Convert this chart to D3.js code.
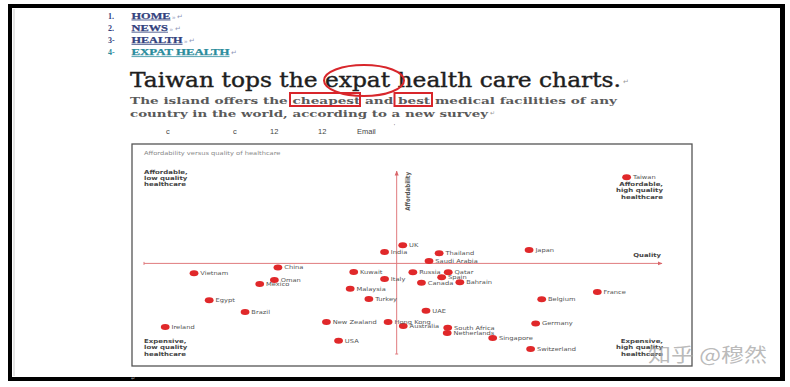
<!DOCTYPE html>
<html>
<head>
<meta charset="utf-8">
<script src="https://cdn.jsdelivr.net/npm/d3@7"></script>
<style>
body { margin: 0; background: #fff; }
svg { display: block; }
</style>
</head>
<body>
<div class="page"></div>
<script>
// chart data
var countries = ["Taiwan", "UK", "India", "Thailand", "Japan", "Saudi Arabia", "China", "Vietnam",
    "Kuwait", "Russia", "Qatar", "Italy", "Spain", "Oman", "Canada", "Bahrain", "Mexico",
    "Malaysia", "France", "Egypt", "Turkey", "Belgium", "UAE", "Brazil", "New Zealand",
    "Hong Kong", "Germany", "Ireland", "Australia", "South Africa", "Netherlands", "USA",
    "Singapore", "Switzerland"]
var quality = [45.5, 1.2, -2.4, 8.4, 26.2, 6.4, -23.5, -40.1,
    -8.5, 3.2, 10.2, -2.4, 8.9, -24.2, 4.9, 12.5, -27.1,
    -9.2, 39.7, -37.1, -5.5, 28.7, 5.8, -30.0, -13.9,
    -1.7, 27.5, -45.8, 1.3, 10.1, 10.0, -11.5,
    19.0, 26.5]
var affordability = [47.5, 10.0, 6.3, 5.6, 7.4, 1.3, -2.2, -5.5,
    -4.7, -4.9, -4.9, -8.6, -7.7, -9.2, -10.7, -10.4, -11.4,
    -14.0, -15.8, -20.4, -19.6, -19.8, -26.1, -26.8, -32.3,
    -32.3, -33.1, -35.1, -34.5, -35.5, -38.4, -42.7,
    -41.2, -47.2]

var chartTitle = "Affordability versus quality of healthcare"
var cornerTL = ["Affordable,", "low quality", "healthcare"]
var cornerTR = ["Affordable,", "high quality", "healthcare"]
var cornerBL = ["Expensive,", "low quality", "healthcare"]
var cornerBR = ["Expensive,", "high quality", "healthcare"]

// page text around the chart
var navNumbers = ["1.", "2.", "3-", "4-"]
var navItems = ["HOME", "NEWS", "HEALTH", "EXPAT HEALTH"]
var headline = "Taiwan tops the expat health care charts."
var standfirst = ["The island offers the cheapest and best medical facilities of any",
    "country in the world, according to a new survey"]
var shareBar = ["c", "c", "12", "12", "Email"]

var data = countries.map(function(c, i) {
    return {name: c, q: quality[i], a: affordability[i]}
})

var width = 790, height = 387
var svg = d3.select(".page").append("svg").attr("width", width).attr("height", height)

var x = d3.scaleLinear().domain([-50, 52.5]).range([144, 662])
var y = d3.scaleLinear().domain([-50, 51]).range([354, 171])

var sx = 1.22
var red = "#e0282a"

drawFrame()
drawPage()
drawChart()

function stretched(sel, px, py, k) {
    return sel.attr("transform", "translate(" + px + "," + py + ") scale(" + (k || sx) + ",1)")
}

function drawFrame() {
    var frame = svg.append("g").attr("fill", "#000")
    frame.append("rect").attr("x", 8).attr("y", 4).attr("width", 777).attr("height", 4)
    frame.append("rect").attr("x", 8).attr("y", 4).attr("width", 4).attr("height", 377)
    frame.append("rect").attr("x", 780).attr("y", 4).attr("width", 5).attr("height", 377)
    frame.append("rect").attr("x", 8).attr("y", 377).attr("width", 777).attr("height", 4)
    svg.append("line").attr("x1", 14).attr("x2", 14).attr("y1", 9).attr("y2", 376)
        .attr("stroke", "#ccc").attr("stroke-width", 1)
}

function drawPage() {
    var navWidths = [39, 36.5, 51, 98]
    var navColors = ["#33427e", "#33427e", "#33427e", "#2b8c9c"]
    var nav = svg.append("g").attr("font-family", "Liberation Serif").attr("font-weight", "bold")

    navItems.forEach(function(t, i) {
        var by = 18.5 + i * 12.2
        nav.append("text").attr("x", 108).attr("y", by).attr("font-size", 8)
            .attr("fill", navColors[i]).text(navNumbers[i])
        nav.append("text").attr("x", 131.5).attr("y", by).attr("font-size", 9)
            .attr("textLength", navWidths[i]).attr("lengthAdjust", "spacingAndGlyphs")
            .attr("fill", navColors[i]).attr("stroke", navColors[i]).attr("stroke-width", 0.25)
            .text(t)
        nav.append("line").attr("x1", 131.5).attr("x2", 131.5 + navWidths[i])
            .attr("y1", by + 1.5).attr("y2", by + 1.5)
            .attr("stroke", navColors[i]).attr("stroke-width", 0.8)
        nav.append("text").attr("x", 133 + navWidths[i]).attr("y", by).attr("font-size", 7)
            .attr("font-weight", "normal").attr("fill", "#8e96b8").text(i < 3 ? "» ↵" : "↵")
    })

    svg.append("text").attr("x", 130).attr("y", 87)
        .attr("font-family", "DejaVu Serif").attr("font-size", 20).attr("fill", "#1e1e1e")
        .attr("stroke", "#1e1e1e").attr("stroke-width", 0.4)
        .attr("textLength", 491).attr("lengthAdjust", "spacingAndGlyphs")
        .text(headline)
    svg.append("text").attr("x", 623).attr("y", 84).attr("font-size", 7).attr("fill", "#999").text("↵")

    var sub = svg.append("g").attr("font-family", "DejaVu Serif").attr("font-weight", "bold")
        .attr("font-size", 10).attr("fill", "#5a5a5a")
    sub.append("text").attr("x", 130).attr("y", 104)
        .attr("textLength", 487).attr("lengthAdjust", "spacingAndGlyphs").text(standfirst[0])
    sub.append("text").attr("x", 130).attr("y", 117)
        .attr("textLength", 358).attr("lengthAdjust", "spacingAndGlyphs").text(standfirst[1])
    svg.append("text").attr("x", 490).attr("y", 115).attr("font-size", 6).attr("fill", "#999").text("↵")

    // red highlights
    var mark = svg.append("g").attr("fill", "none").attr("stroke", "#d8262b").attr("stroke-width", 2)
    mark.append("ellipse").attr("cx", 364).attr("cy", 80.5).attr("rx", 40).attr("ry", 15.5)
    mark.append("rect").attr("x", 290).attr("y", 93).attr("width", 70).attr("height", 13)
    mark.append("rect").attr("x", 394.5).attr("y", 93).attr("width", 37.5).attr("height", 13)

    var shareX = [166, 233, 270, 318, 357]
    var share = svg.append("g").attr("font-family", "Liberation Sans").attr("font-size", 7.5).attr("fill", "#444")
    shareBar.forEach(function(t, i) {
        share.append("text").attr("x", shareX[i]).attr("y", 134).text(t)
    })
    share.append("text").attr("x", 394).attr("y", 128).attr("font-size", 5).text("'")
    svg.append("text").attr("x", 131).attr("y", 380).attr("font-size", 5).attr("fill", "#aaa").text("↵")
}

function drawChart() {
    var chart = svg.append("g").attr("class", "chartLayer")

    chart.append("rect").attr("x", 132).attr("y", 144).attr("width", 560).attr("height", 222)
        .attr("fill", "#fff").attr("stroke", "#555").attr("stroke-width", 1.3)

    var defs = svg.append("defs")
    defs.append("marker").attr("id", "arrow").attr("viewBox", "0 0 10 10")
        .attr("refX", 9).attr("refY", 5).attr("markerWidth", 5).attr("markerHeight", 5)
        .attr("orient", "auto")
        .append("path").attr("d", "M0,1L10,5L0,9z").attr("fill", "#d9666a")

    var axisLayer = chart.append("g").attr("stroke", "#e07b7e").attr("stroke-width", 1)
    axisLayer.append("line")
        .attr("x1", x(-50)).attr("x2", x(52.5)).attr("y1", y(0)).attr("y2", y(0))
        .attr("marker-end", "url(#arrow)")
    axisLayer.append("line")
        .attr("x1", x(0)).attr("x2", x(0)).attr("y1", y(-50)).attr("y2", y(51))
        .attr("marker-end", "url(#arrow)")
    axisLayer.append("line")
        .attr("x1", x(-50)).attr("x2", x(-50)).attr("y1", y(0) - 1.5).attr("y2", y(0) + 1.5)
    axisLayer.append("line")
        .attr("x1", x(0) - 1.5).attr("x2", x(0) + 1.5).attr("y1", y(-50)).attr("y2", y(-50))

    var label = chart.append("g").attr("font-family", "DejaVu Sans")

    stretched(label.append("text"), 144, 155).attr("font-size", 5.5).attr("fill", "#8a8a8a").text(chartTitle)

    stretched(label.append("text"), x(52.5) - 1, y(0) - 6, 1.25)
        .attr("font-size", 5.5).attr("font-weight", "bold").attr("fill", "#444")
        .attr("text-anchor", "end").text("Quality")
    label.append("text")
        .attr("transform", "translate(" + (x(0) + 13.5) + "," + (y(51) + 1) + ") rotate(-90) scale(1.1,1.3)")
        .attr("font-size", 5).attr("font-weight", "bold").attr("fill", "#555")
        .attr("text-anchor", "end").text("Affordability")

    function corner(lines, px, py, anchor) {
        lines.forEach(function(t, i) {
            stretched(label.append("text"), px, py + i * 6.3, 1.27)
                .attr("font-size", 5.5).attr("font-weight", "bold").attr("fill", "#444")
                .attr("text-anchor", anchor).text(t)
        })
    }
    corner(cornerTL, 144, 173.8, "start")
    corner(cornerTR, 663, 186, "end")
    corner(cornerBL, 144, 343, "start")
    corner(cornerBR, 663, 343, "end")

    chart.selectAll(".dot")
        .data(data)
        .enter().append("ellipse")
        .attr("class", "dot")
        .attr("cx", function(d) { return x(d.q) })
        .attr("cy", function(d) { return y(d.a) })
        .attr("rx", 4.4)
        .attr("ry", 3)
        .attr("fill", red)

    chart.selectAll(".name")
        .data(data)
        .enter().append("text")
        .attr("class", "name")
        .attr("transform", function(d) {
            return "translate(" + (x(d.q) + 6.3) + "," + (y(d.a) + 2) + ") scale(" + sx + ",1)"
        })
        .attr("font-family", "DejaVu Sans")
        .attr("font-size", 5.5)
        .attr("fill", "#555")
        .text(function(d) { return d.name })

    // site watermark over the bottom-right corner
    svg.append("text").attr("x", 648).attr("y", 362)
        .attr("font-family", "Noto Sans CJK SC").attr("font-size", 19)
        .attr("textLength", 119).attr("lengthAdjust", "spacingAndGlyphs")
        .attr("fill", "#a8a8a8").attr("fill-opacity", 0.8)
        .text("知乎 @穆然")
}
</script>
</body>
</html>
